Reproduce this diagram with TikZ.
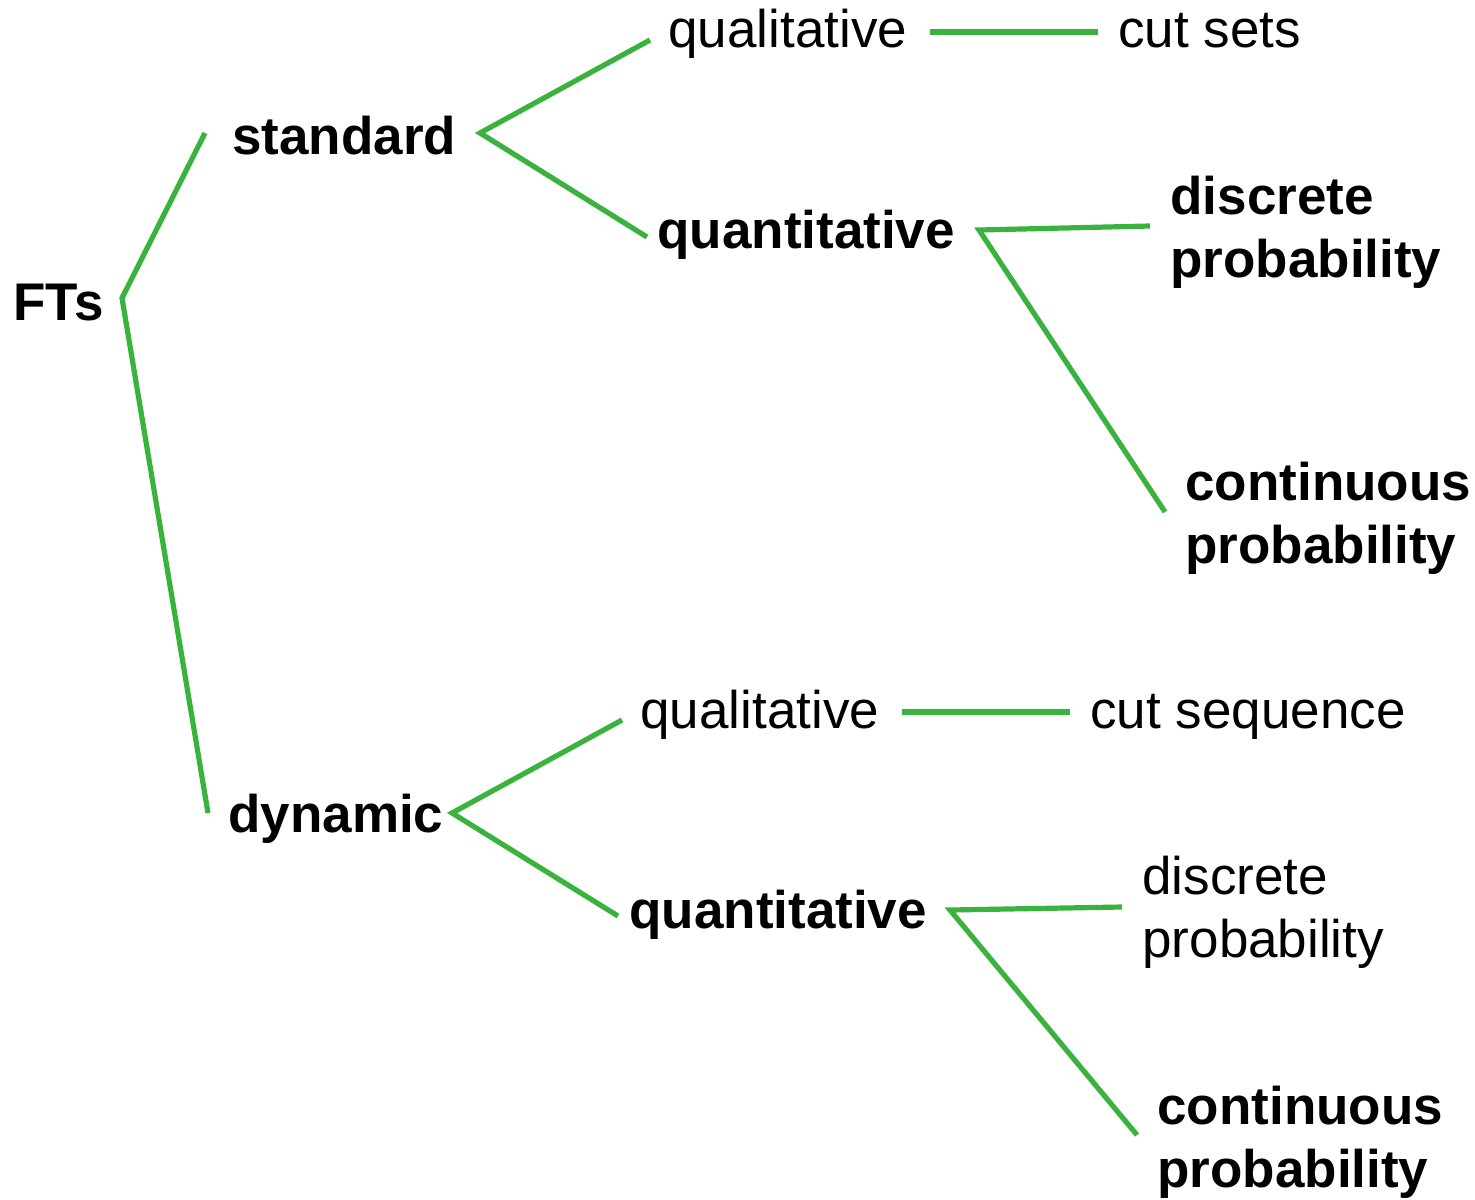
\documentclass[tikz,border=0pt]{standalone}
\usepackage{fontspec}
\setmainfont{Liberation Sans}
\definecolor{branch}{RGB}{58,178,62}
\begin{document}
\begin{tikzpicture}[x=0.5pt,y=-0.5pt,
  lbl/.style={anchor=base west,inner sep=0pt,align=left,
    font=\fontsize{26.5}{31.5}\selectfont},
  bold/.style={lbl,font=\fontsize{26.5}{31.5}\selectfont\bfseries},
  link/.style={draw=branch,line width=2.6pt,line join=miter}]
\useasboundingbox (0,0) rectangle (1475,1199);

% labels (two-line labels sit on the baseline of their last line)
\node[bold] (fts)      at (13,320)   {FTs};
\node[bold] (standard) at (232,154)  {standard};
\node[bold] (dynamic)  at (228,832)  {dynamic};
\node[lbl]  (qualA)    at (668,47)   {qualitative};
\node[lbl]  (cutsets)  at (1118,47)  {cut sets};
\node[bold] (quantA)   at (657,248)  {quantitative};
\node[bold] (discA)    at (1170,277) {discrete\\probability};
\node[bold] (contA)    at (1185,563) {continuous\\probability};
\node[lbl]  (qualB)    at (640,728)  {qualitative};
\node[lbl]  (cutseq)   at (1090,728) {cut sequence};
\node[bold] (quantB)   at (629,928)  {quantitative};
\node[lbl]  (discB)    at (1142,957) {discrete\\probability};
\node[bold] (contB)    at (1157,1187){continuous\\probability};

% branch points and line ends
\coordinate (ftsJ)   at (122,298);
\coordinate (ftsU)   at (205,133);
\coordinate (ftsD)   at (208,813);
\coordinate (stdJ)   at (480,133);
\coordinate (stdU)   at (650,40);
\coordinate (stdD)   at (647,237);
\coordinate (csL)    at (930,32);
\coordinate (csR)    at (1098,32);
\coordinate (qnAJ)   at (979,230);
\coordinate (qnAU)   at (1150,226);
\coordinate (qnAD)   at (1165,512);
\coordinate (dynJ)   at (452,813);
\coordinate (dynU)   at (622,720);
\coordinate (dynD)   at (618,916);
\coordinate (sqL)    at (902,712);
\coordinate (sqR)    at (1070,712);
\coordinate (qnBJ)   at (950,910);
\coordinate (qnBU)   at (1122,907);
\coordinate (qnBD)   at (1137,1135);

% connectors
\draw[link] (ftsU) -- (ftsJ) -- (ftsD);
\draw[link] (stdU) -- (stdJ) -- (stdD);
\draw[link] (csL) -- (csR);
\draw[link] (qnAU) -- (qnAJ) -- (qnAD);
\draw[link] (dynU) -- (dynJ) -- (dynD);
\draw[link] (sqL) -- (sqR);
\draw[link] (qnBU) -- (qnBJ) -- (qnBD);
\end{tikzpicture}
\end{document}
